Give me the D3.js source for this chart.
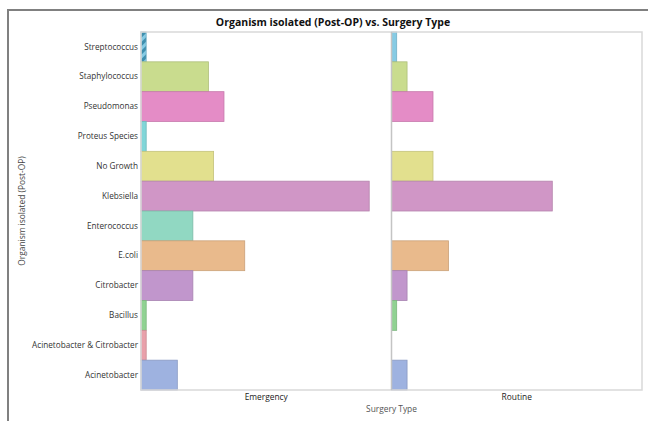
<!DOCTYPE html>
<html>
<head>
<meta charset="utf-8">
<script src="https://cdn.jsdelivr.net/npm/d3@7"></script>
<style>
  body { margin: 0; background: #fff; }
  text { font-family: "Open Sans", "Noto Sans", sans-serif; }
</style>
</head>
<body>
<div id="chartArea"></div>
<script>
// organisms, top to bottom
const organisms = [
  "Streptococcus", "Staphylococcus", "Pseudomonas", "Proteus Species",
  "No Growth", "Klebsiella", "Enterococcus", "E.coli", "Citrobacter",
  "Bacillus", "Acinetobacter & Citrobacter", "Acinetobacter"
];
const surgeryTypes = ["Emergency", "Routine"];
const emergency = [1, 13, 16, 1, 14, 44, 10, 20, 10, 1, 1, 7];
const routine = [1, 3, 8, 0, 8, 31, 0, 11, 3, 1, 0, 3];
const barColors = [
  "#86cbe4", "#c9dc8e", "#e48cc6", "#80d6d8", "#e2e08e", "#d096c6",
  "#91d8c2", "#e9ba8c", "#c196cc", "#90d292", "#e9a0aa", "#9eb2e0"
];

const width = 648, height = 421;
const margin = { top: 32, right: 6, bottom: 31, left: 141 };

const svg = d3.select("#chartArea").append("svg")
  .attr("width", width).attr("height", height);

// hatch for the highlighted cell
const pat = svg.append("defs").append("pattern")
  .attr("id", "hatch").attr("patternUnits", "userSpaceOnUse")
  .attr("width", 6).attr("height", 6)
  .attr("patternTransform", "rotate(45)");
pat.append("rect").attr("width", 6).attr("height", 6).attr("fill", "#86cbe4");
pat.append("rect").attr("width", 3).attr("height", 6).attr("fill", "#3f8fae");

// outer frame (top + left only)
svg.append("line").attr("x1", 7).attr("x2", width).attr("y1", 10).attr("y2", 10)
  .attr("stroke", "#808080").attr("stroke-width", 2);
svg.append("line").attr("x1", 8).attr("x2", 8).attr("y1", 10).attr("y2", height)
  .attr("stroke", "#808080").attr("stroke-width", 2);

const plotW = width - margin.left - margin.right;
const plotH = height - margin.top - margin.bottom;

const yScale = d3.scaleBand().domain(organisms)
  .range([margin.top, margin.top + plotH]).padding(0);

const panel = d3.scaleBand().domain(surgeryTypes)
  .range([margin.left, margin.left + plotW]).padding(0);

const xScale = d3.scaleLinear().domain([0, 48.3]).range([0, panel.bandwidth()]);

const seriesByType = { Emergency: emergency, Routine: routine };

surgeryTypes.forEach((t) => {
  const g = svg.append("g").attr("transform", `translate(${panel(t)},0)`);
  const vals = seriesByType[t];
  g.selectAll("rect.bar")
    .data(organisms.map((o, i) => ({ o, v: vals[i], i })).filter((d) => d.v > 0))
    .join("rect")
    .attr("class", "bar")
    .attr("x", 0)
    .attr("y", (d) => yScale(d.o))
    .attr("width", (d) => xScale(d.v))
    .attr("height", yScale.bandwidth())
    .attr("fill", (d) => (t === "Emergency" && d.i === 0 ? "url(#hatch)" : barColors[d.i]))
    .attr("stroke", (d) => d3.color(barColors[d.i]).darker(0.4))
    .attr("stroke-width", 0.8);
});

// plot border and panel divider
svg.append("rect")
  .attr("x", margin.left).attr("y", margin.top)
  .attr("width", plotW).attr("height", plotH)
  .attr("fill", "none").attr("stroke", "#d9d9d9").attr("stroke-width", 1.5);
svg.append("line")
  .attr("x1", panel("Routine")).attr("x2", panel("Routine"))
  .attr("y1", margin.top).attr("y2", margin.top + plotH)
  .attr("stroke", "#c4c4c4").attr("stroke-width", 1.5);

// y axis labels
const yAxis = svg.append("g")
  .attr("transform", `translate(${margin.left},0)`)
  .call(d3.axisLeft(yScale).tickSize(0).tickPadding(3));
yAxis.select(".domain").remove();
yAxis.selectAll("text").attr("font-size", 8.2).attr("fill", "#333")
  .style("font-family", "'Open Sans', sans-serif");

// panel labels
const xAxis = svg.append("g")
  .attr("transform", `translate(0,${margin.top + plotH})`)
  .call(d3.axisBottom(panel).tickSize(0).tickPadding(4));
xAxis.select(".domain").remove();
xAxis.selectAll("text").attr("font-size", 8.4).attr("fill", "#222")
  .style("font-family", "'Open Sans', sans-serif");

// titles
svg.append("text")
  .attr("x", 333).attr("y", 26)
  .attr("text-anchor", "middle")
  .attr("font-size", 10.5).attr("font-weight", "bold").attr("fill", "#111")
  .text("Organism isolated (Post-OP) vs. Surgery Type");

svg.append("text")
  .attr("x", margin.left + plotW / 2).attr("y", 412)
  .attr("text-anchor", "middle")
  .attr("font-size", 8.4).attr("fill", "#555")
  .text("Surgery Type");

svg.append("text")
  .attr("transform", `translate(25,${margin.top + plotH / 2}) rotate(-90)`)
  .attr("text-anchor", "middle")
  .attr("font-size", 8.4).attr("fill", "#444")
  .text("Organism isolated (Post-OP)");
</script>
</body>
</html>
